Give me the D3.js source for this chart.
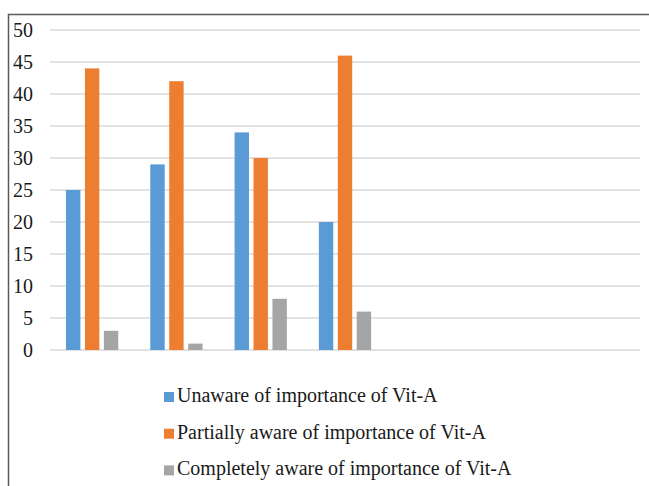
<!DOCTYPE html>
<meta charset="utf-8">
<head>
<style>
body { margin: 0; background: #fff; }
svg text { font-family: 'Liberation Serif', 'DejaVu Serif', 'Times New Roman', Times, serif; fill: #1a1a1a; }
</style>
</head>
<body>
<svg width="649" height="486"></svg>
<script src="https://d3js.org/d3.v7.min.js"></script>
<script>
// groups along x (no labels shown in the original), last three are empty
let categories = ['G1', 'G2', 'G3', 'G4', 'G5', 'G6', 'G7'];
let seriesNames = [
    'Unaware of importance of Vit-A',
    'Partially aware of importance of Vit-A',
    'Completely aware of importance of Vit-A'
];
let unaware = [25, 29, 34, 20, null, null, null];
let partially = [44, 42, 30, 46, null, null, null];
let completely = [3, 1, 8, 6, null, null, null];
let yTicks = [0, 5, 10, 15, 20, 25, 30, 35, 40, 45, 50];

let colors = ['#5b9bd5', '#ed7d31', '#a5a5a5'];
let series = [unaware, partially, completely];

let svg = d3.select('svg');

// outer frame (left + top edges)
svg.append('path')
    .attr('d', 'M8.5,486 L8.5,14.5 L649,14.5')
    .attr('fill', 'none')
    .attr('stroke', '#5a5a5a')
    .attr('stroke-width', 1.5);

let x0 = d3.scaleBand()
    .domain(categories)
    .range([50, 640])
    .paddingInner(0.38)
    .paddingOuter(0.19);

let x1 = d3.scaleBand()
    .domain(d3.range(seriesNames.length))
    .range([0, x0.bandwidth()])
    .paddingInner(0.24);

let y = d3.scaleLinear().domain([0, 50]).range([350, 30]);

// gridlines
svg.append('g')
    .selectAll('line')
    .data(yTicks)
    .enter().append('line')
        .attr('x1', 50)
        .attr('x2', 640)
        .attr('y1', (d) => y(d))
        .attr('y2', (d) => y(d))
        .attr('stroke', '#d9d9d9')
        .attr('stroke-width', 1.5);

// y tick labels
svg.append('g')
    .selectAll('text')
    .data(yTicks)
    .enter().append('text')
        .attr('x', 33)
        .attr('y', (d) => y(d) + 6.5)
        .attr('text-anchor', 'end')
        .attr('font-size', 20)
        .text((d) => d);

// bars
let groups = svg.append('g')
    .selectAll('g')
    .data(categories)
    .enter().append('g')
        .attr('transform', (d) => `translate(${x0(d)},0)`);

groups.selectAll('rect')
    .data((d, i) => series.map((s, k) => ({ k: k, v: s[i] })).filter((e) => e.v != null))
    .enter().append('rect')
        .attr('x', (d) => x1(d.k))
        .attr('y', (d) => y(d.v))
        .attr('width', x1.bandwidth())
        .attr('height', (d) => y(0) - y(d.v))
        .attr('fill', (d) => colors[d.k]);

// legend
let legend = svg.append('g')
    .selectAll('g')
    .data(seriesNames)
    .enter().append('g')
        .attr('transform', (d, i) => `translate(164, ${402 + i * 36.7})`);

legend.append('rect')
    .attr('x', 0)
    .attr('y', -10)
    .attr('width', 10)
    .attr('height', 10)
    .attr('fill', (d, i) => colors[i]);

legend.append('text')
    .attr('x', 13)
    .attr('y', 0)
    .attr('font-size', 20)
    .text((d) => d);
</script>
</body>
</html>
